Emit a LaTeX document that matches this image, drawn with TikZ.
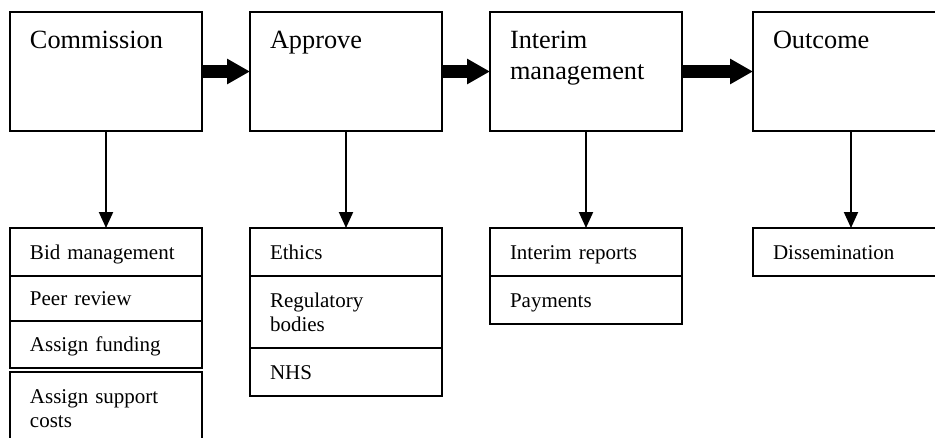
\documentclass[tikz,border=0pt]{standalone}
\usepackage{fontspec}
\setmainfont{Liberation Serif}
\usetikzlibrary{positioning,arrows.meta}
\newcommand{\stagefont}{\fontsize{26.3}{31.5}\selectfont}
\newcommand{\taskfont}{\fontsize{21}{24}\selectfont}
\newcommand{\taskstrutup}{\rule{0pt}{20pt}}
\newcommand{\taskstrutdown}{\rule[-6pt]{0pt}{6pt}}

\begin{document}
\begin{tikzpicture}[x=1pt,y=-1pt,line width=2pt,
		stage/.style={draw,outer sep=0pt,minimum width=192pt,minimum height=119pt,anchor=north west},
		stagename/.style={anchor=north west,outer sep=0pt,inner xsep=20pt,inner ysep=19pt,align=left,font=\stagefont},
		task/.style={draw,outer sep=0pt,minimum width=192pt,minimum height=48pt,text width=152pt,inner xsep=20pt,align=left,font=\taskfont,
			execute at begin node=\taskstrutup,execute at end node=\taskstrutdown},
		flow/.style={line width=13pt,-{Triangle[length=23pt,width=24pt]}},
		feed/.style={line width=2pt,-{Triangle[length=16pt,width=14pt]}}]
			\path[use as bounding box,fill=white] (0,0) rectangle (935,437);
			\node[stage,label={[stagename]north west:Commission}] (comm) at (10,12) {};
			\node[stage,right=48pt of comm,label={[stagename]north west:Approve}] (appr) {};
			\node[stage,right=48pt of appr,label={[stagename]north west:Interim\\management}] (intm) {};
			\node[stage,right=71pt of intm,minimum width=196pt,label={[stagename]north west:Outcome}] (outc) {};
			\node[task,below=97pt of comm] (bid) {Bid management};
			\node[task,below=0pt of bid,minimum height=45pt] (peer) {Peer review};
			\node[task,below=0pt of peer,minimum height=47pt] (fund) {Assign funding};
			\node[task,below=4pt of fund,minimum height=72pt] (supp) {Assign support\\costs};
			\node[task,below=97pt of appr] (eth) {Ethics};
			\node[task,below=0pt of eth,minimum height=72pt] (reg) {Regulatory\\bodies};
			\node[task,below=0pt of reg] (nhs) {NHS};
			\node[task,below=97pt of intm] (rep) {Interim reports};
			\node[task,below=0pt of rep] (pay) {Payments};
			\node[task,below=97pt of outc,text width=156pt] (diss) {Dissemination};
			\foreach \a/\b in {comm/appr,appr/intm,intm/outc}{
				\draw[flow] (\a) -- (\b);
			}
			\foreach \a/\b in {comm/bid,appr/eth,intm/rep,outc/diss}{
				\draw[feed] (\a) -- (\b);
			}
		\end{tikzpicture}
\end{document}
